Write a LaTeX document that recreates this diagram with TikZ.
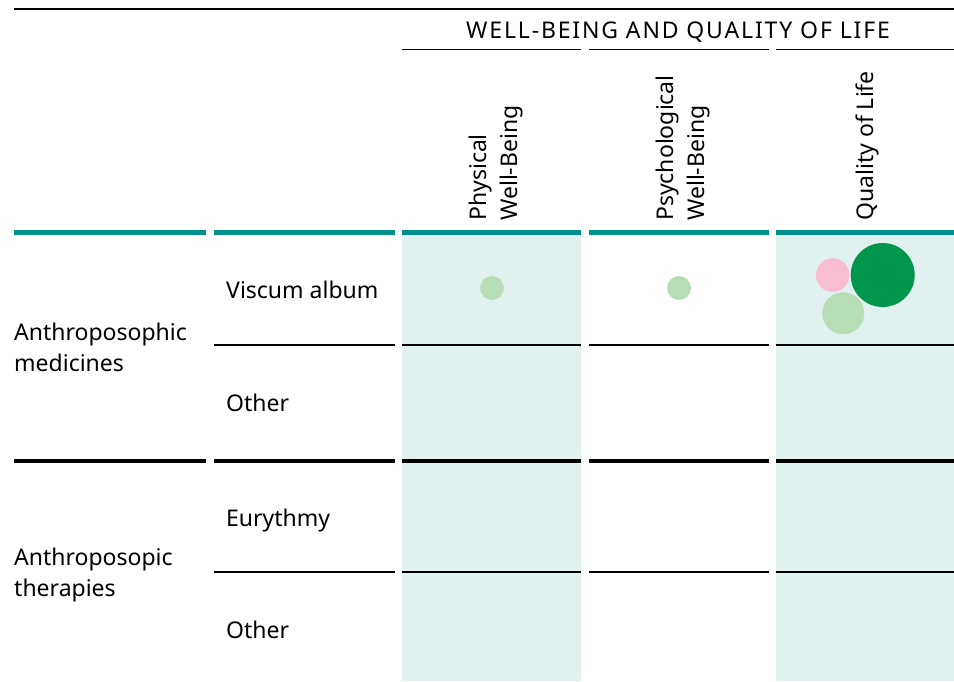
\documentclass[tikz,border=0pt]{standalone}
\usepackage{fontspec}
\setmainfont{Noto Sans}
\newfontfamily\spacedfont[LetterSpace=8]{Noto Sans}
\definecolor{ruleteal}{RGB}{0,145,138}
\definecolor{cellshade}{RGB}{225,241,239}
\definecolor{bubdark}{RGB}{0,150,78}
\definecolor{bublight}{RGB}{182,221,182}
\definecolor{bubpink}{RGB}{249,190,209}

\begin{document}
\begin{tikzpicture}[x=1pt,y=-1pt,
  font=\fontsize{23}{31.5}\selectfont,
  lbl/.style = {anchor=base west, inner sep=0pt},
  grp/.style = {anchor=north west, inner sep=0pt, align=left},
  hdr/.style = {rotate=90, anchor=west, inner sep=0pt, align=left},
  bubble/.style = {circle, inner sep=0pt}]
\useasboundingbox (0,0) rectangle (954,681);
% shaded columns
\fill[cellshade] (402,235) rectangle (581,681);
\fill[cellshade] (776,235) rectangle (954,681);
% rules
\draw[line width=1.2] (14,9) -- (954,9);
\foreach \a/\b in {402/581,589/769,776/954}
  \draw[line width=1.2] (\a,49.5) -- (\b,49.5);
\foreach \a/\b in {14/206,214/395,402/581,589/769,776/954}{
  \draw[ruleteal, line width=4.5] (\a,232.5) -- (\b,232.5);
  \draw[line width=4.5] (\a,461) -- (\b,461);
}
\foreach \a/\b in {214/395,402/581,589/769,776/954}{
  \draw[line width=1.2] (\a,345) -- (\b,345);
  \draw[line width=1.2] (\a,572) -- (\b,572);
}
% headers
\node[inner sep=0pt] (wb) at (678,32) {\spacedfont WELL-BEING AND QUALITY OF LIFE};
\node[hdr] (phys) at (496,221) {Physical\\Well-Being};
\node[hdr] (psych) at (683,221) {Psychological\\Well-Being};
\node[hdr] (qol) at (867,221) {Quality of Life};
% row labels
\node[grp] (med) at (14,322.5) {Anthroposophic\\medicines};
\node[grp] (ther) at (14,547.5) {Anthroposopic\\therapies};
\node[lbl] (visc) at (226,298) {Viscum album};
\node[lbl] (oth1) at (226,411) {Other};
\node[lbl] (eury) at (226,526.7) {Eurythmy};
\node[lbl] (oth2) at (226,638) {Other};
% bubbles
\node[bubble, fill=bublight, minimum size=24] (b1) at (492,288) {};
\node[bubble, fill=bublight, minimum size=24] (b2) at (679,288) {};
\node[bubble, fill=bubpink, minimum size=33.5] (b3) at (832.7,275) {};
\node[bubble, fill=bubdark, minimum size=64] (b4) at (882.7,275) {};
\node[bubble, fill=bublight, minimum size=42] (b5) at (843.3,313.3) {};
\end{tikzpicture}
\end{document}
